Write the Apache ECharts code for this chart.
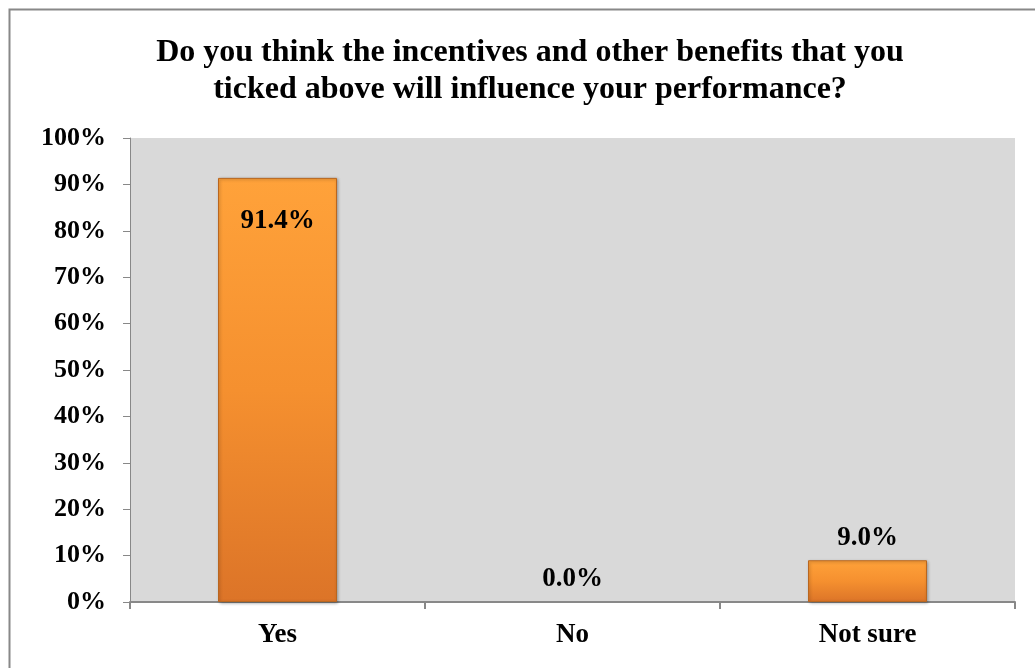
<!DOCTYPE html>
<html lang="en">
<head>
    <meta charset="UTF-8">
    <title>incentives chart</title>
    <script type="text/javascript" src="https://cdn.jsdelivr.net/npm/echarts@6/dist/echarts.min.js"></script>
    <style>
        html, body { margin: 0; padding: 0; background: #fff; }
    </style>
</head>
<body>
    <div id="main" style="width: 1035px;height:668px;"></div>
    <script type="text/javascript">
    let categories = ['Yes', 'No', 'Not sure'];
    let values = [91.4, 0.0, 9.0];
    let titleText = 'Do you think the incentives and other benefits that you\nticked above will influence your performance?';

    let myChart = echarts.init(document.getElementById('main'));
    let serif = '"Liberation Serif", "Times New Roman", serif';

    // the first bar carries its label inside, the rest above
    let barData = values.map(function (v, i) {
        if (i === 0) {
            return { value: v, label: { position: 'insideTop', distance: 30 } };
        }
        if (v === 0) {
            return { value: v, itemStyle: { borderWidth: 0, shadowBlur: 0, shadowOffsetX: 0, shadowOffsetY: 0 } };
        }
        return v;
    });

    let option = {
        backgroundColor: '#fff',
        animation: false,
        title: {
            text: titleText,
            left: 525,
            textAlign: 'center',
            top: 29,
            textStyle: {
                fontFamily: serif,
                fontSize: 32,
                fontWeight: 'bold',
                color: '#000',
                lineHeight: 37
            }
        },
        graphic: [{
            type: 'rect',
            shape: { x: 9.5, y: 9.5, width: 1100, height: 800 },
            style: { fill: 'none', stroke: '#888', lineWidth: 2 },
            silent: true
        }],
        grid: {
            left: 130,
            right: 20,
            top: 138,
            bottom: 66,
            show: true,
            backgroundColor: '#d9d9d9',
            borderWidth: 0
        },
        xAxis: {
            type: 'category',
            data: categories,
            axisLine: { lineStyle: { color: '#888', width: 2 } },
            axisTick: { show: true, length: 7, lineStyle: { color: '#888', width: 2 } },
            axisLabel: {
                margin: 20,
                fontFamily: serif,
                fontSize: 27,
                fontWeight: 'bold',
                color: '#000'
            }
        },
        yAxis: {
            type: 'value',
            min: 0,
            max: 100,
            interval: 10,
            axisLine: { show: true, lineStyle: { color: '#888', width: 1 } },
            axisTick: { show: true, length: 7, lineStyle: { color: '#888' } },
            splitLine: { show: false },
            axisLabel: {
                formatter: '{value}%',
                margin: 24,
                fontFamily: serif,
                fontSize: 26,
                fontWeight: 'bold',
                color: '#000'
            }
        },
        series: [{
            type: 'bar',
            data: barData,
            barWidth: 119,
            itemStyle: {
                color: new echarts.graphic.LinearGradient(0, 0, 0, 1, [
                    { offset: 0, color: '#ffa23a' },
                    { offset: 0.5, color: '#f5902f' },
                    { offset: 1, color: '#dc7428' }
                ]),
                borderColor: '#b9661f',
                borderWidth: 1,
                shadowColor: 'rgba(0,0,0,0.3)',
                shadowBlur: 3,
                shadowOffsetX: 1,
                shadowOffsetY: 1
            },
            label: {
                show: true,
                position: 'top',
                distance: 9,
                formatter: function (p) { return p.value.toFixed(1) + '%'; },
                fontFamily: serif,
                fontSize: 27,
                fontWeight: 'bold',
                color: '#000'
            }
        }]
    };

    myChart.setOption(option);
    </script>
</body>
</html>
